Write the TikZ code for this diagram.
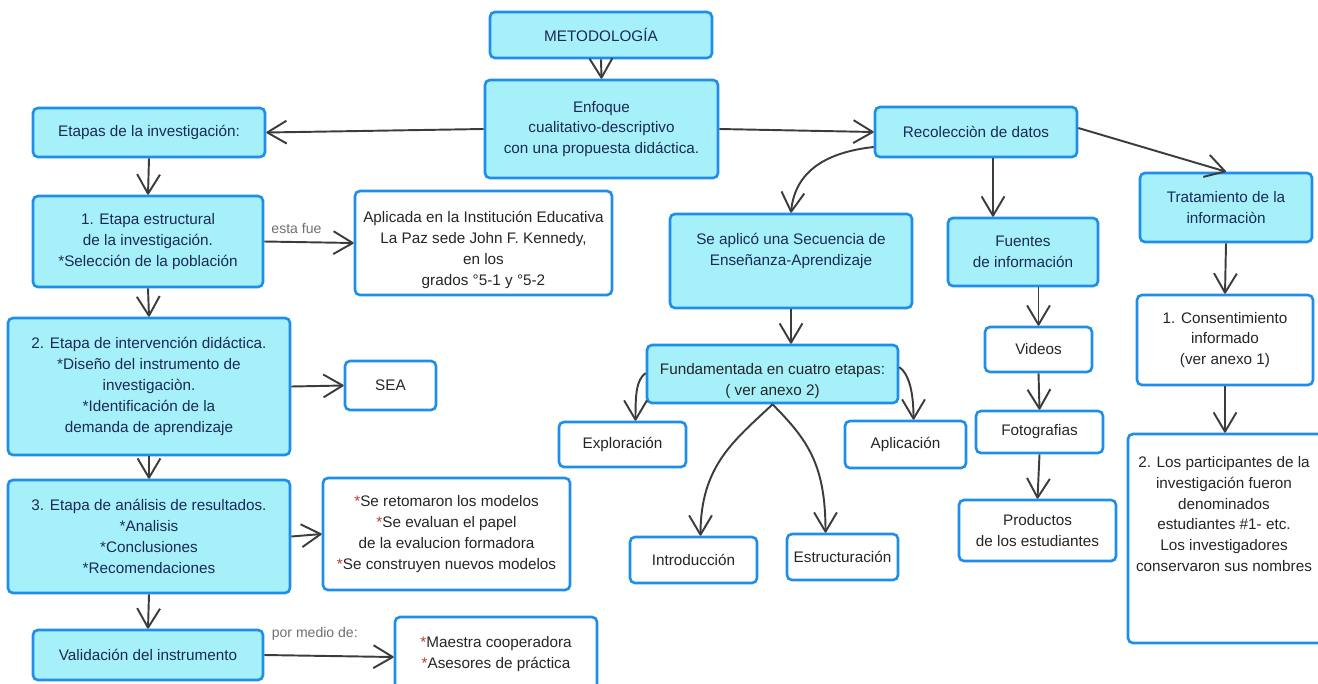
\documentclass[tikz,border=0pt]{standalone}
\usepackage{fontspec}
\setmainfont{Liberation Sans}
\usetikzlibrary{arrows.meta,calc}

\definecolor{cyanfill}{HTML}{A6F0FA}
\definecolor{boxblue}{HTML}{1E8EEA}
\definecolor{ink}{HTML}{1C2A56}
\definecolor{darkink}{HTML}{262626}
\definecolor{wire}{HTML}{3C3C3C}
\definecolor{notegray}{HTML}{707070}
\definecolor{star}{HTML}{C0392B}

% box from its corners: style, name, x1, y1, x2, y2, text
\newcommand\rbox[7]{\node[#1, minimum width={(#5-#3)*0.02cm}, minimum height={(#6-#4)*0.02cm}] (#2) at ({(#3+#5)/2},{(#4+#6)/2}) {#7};}
\newcommand\st{\textcolor{star}{*}}

\tikzset{
  cbox/.style={draw=boxblue, fill=cyanfill, line width=1.5pt, rounded corners=2.8pt,
    inner sep=0pt, text=ink, align=center, font=\fontsize{8.7}{11.9}\selectfont},
  wbox/.style={cbox, fill=white, text=darkink},
  txt/.style={inner sep=0pt, align=center, font=\fontsize{8.7}{11.9}\selectfont, text=ink},
  wtxt/.style={txt, text=darkink},
  arr/.style={draw=wire, line width=1.1pt, line join=round,
    -{Straight Barb[length=11pt,width=13pt,line join=round]}},
  linknote/.style={inner sep=0pt, text=notegray, font=\fontsize{8}{10}\selectfont},
}

\begin{document}
\begin{tikzpicture}[x=0.02cm, y=-0.02cm]
\useasboundingbox (0,0) rectangle (1318,683);
\clip (0,0) rectangle (1318,683);

% top of the map
\rbox{cbox}{met}{490}{12}{712}{58}{METODOLOGÍA}
\rbox{cbox}{enf}{485}{80}{718}{178}{Enfoque\\cualitativo-descriptivo\\con una propuesta didáctica.}

% left column: stages
\rbox{cbox}{etap}{33}{108}{265}{157}{Etapas de la investigación:}
\rbox{cbox}{e1}{33}{196}{263}{287}{1. Etapa estructural\\de la investigación.\\*Selección de la población}
\rbox{wbox}{apl}{355}{191}{612}{295}{}
\node[wtxt] (aplt) at (483.5,250) {Aplicada en la Institución Educativa\\La Paz sede John F. Kennedy,\\en los\\grados °5-1 y °5-2};
\rbox{cbox}{e2}{8}{318}{290}{455}{2. Etapa de intervención didáctica.\\*Diseño del instrumento de\\investigaciòn.\\*Identificación de la\\demanda de aprendizaje}
\rbox{wbox}{sea}{345}{361}{436}{410}{SEA}
\rbox{cbox}{e3}{8}{480}{290}{593}{3. Etapa de análisis de resultados.\\*Analisis\\*Conclusiones\\*Recomendaciones}
\rbox{wbox}{ret}{323}{478}{570}{590}{\st Se retomaron los modelos\\\st Se evaluan el papel\\de la evalucion formadora\\\st Se construyen nuevos modelos}
\rbox{cbox}{val}{33}{630}{263}{680}{Validación del instrumento}
\rbox{wbox}{mae}{395}{617}{597}{697}{}
\node[wtxt] (maet) at (496,654) {\st Maestra cooperadora\\\st Asesores de práctica};

% middle: teaching sequence
\rbox{cbox}{seq}{670}{214}{912}{308}{}
\node[txt] (seqt) at (791,251) {Se aplicó una Secuencia de\\Enseñanza-Aprendizaje};
\rbox{cbox}{fund}{647}{345}{898}{403}{}
\node[txt, text=darkink] (fundt) at (772.5,381) {Fundamentada en cuatro etapas:\\( ver anexo 2)};
\rbox{wbox}{expl}{559}{422}{686}{467}{Exploración}
\rbox{wbox}{aplc}{845}{421}{966}{468}{Aplicación}
\rbox{wbox}{intro}{630}{537}{757}{583}{Introducción}
\rbox{wbox}{estr}{787}{534}{898}{580}{Estructuración}

% right: data collection
\rbox{cbox}{reco}{875}{107}{1077}{157}{Recolecciòn de datos}
\rbox{cbox}{fue}{948}{218}{1098}{286}{Fuentes\\de información}
\rbox{wbox}{vid}{985}{327}{1092}{372}{Videos}
\rbox{wbox}{fot}{976}{411}{1103}{453}{Fotografias}
\rbox{wbox}{prod}{959}{500}{1116}{561}{Productos\\de los estudiantes}
\rbox{cbox}{trat}{1140}{173}{1312}{242}{Tratamiento de la\\informaciòn}
\rbox{wbox}{cons}{1137}{295}{1313}{385}{1. Consentimiento\\informado\\(ver anexo 1)}
\rbox{wbox}{part}{1128}{434}{1324}{643}{}
\node[wtxt] (partt) at (1224,514) {2. Los participantes de la\\investigación fueron\\denominados\\estudiantes \#1- etc.\\Los investigadores\\conservaron sus nombres};

% connectors
\draw[arr] (met.south) -- (enf.north);
\draw[arr] (enf.west) -- (etap.east);
\draw[arr] (enf.east) -- (reco.west);

\draw[arr] (etap.south) -- (e1.north);
\draw[arr] (e1.south) -- (e2.north);
\draw[arr] (e2.south) -- (e3.north);
\draw[arr] (e3.south) -- (val.north);
\draw[arr] (e1.east) -- (apl.west) node[linknote, pos=0.36, above=4pt] (lbl1) {esta fue};
\draw[arr] (e2.east) -- (sea.west);
\draw[arr] (e3.east) -- (ret.west);
\draw[arr] (val.east) -- (mae.west) node[linknote, pos=0.39, above=8pt] (lbl2) {por medio de:};

\draw[arr] ($(reco.west)+(0,15)$) .. controls (828,152) and (795,170) .. (seq.north);
\draw[arr] ($(reco.south)+(17,0)$) -- ($(fue.north)+(-30,0)$);
\draw[arr] ($(reco.east)+(0,-4)$) -- (trat.north);
\draw[arr] (fue.south -| vid.north) -- (vid.north);
\draw[arr] (vid.south) -- (fot.north);
\draw[arr] (fot.south) -- (prod.north);
\draw[arr] (trat.south) -- (cons.north);
\draw[arr] (cons.south) -- (cons.south |- part.north);

\draw[arr] (seq.south) -- (seq.south |- fund.north);
\draw[arr] ($(fund.west)+(0,-1)$) .. controls (636,380) and (635.5,395) .. ($(expl.north)+(13,0)$);
\draw[arr] ($(fund.east)+(0,-7)$) .. controls (910,375) and (913.5,395) .. ($(aplc.north)+(8,0)$);
\draw[arr] (fund.south) .. controls (735,440) and (700.5,465) .. ($(intro.north)+(7,0)$);
\draw[arr] (fund.south) .. controls (808,440) and (825.5,465) .. ($(estr.north)+(-17,0)$);
\end{tikzpicture}
\end{document}
